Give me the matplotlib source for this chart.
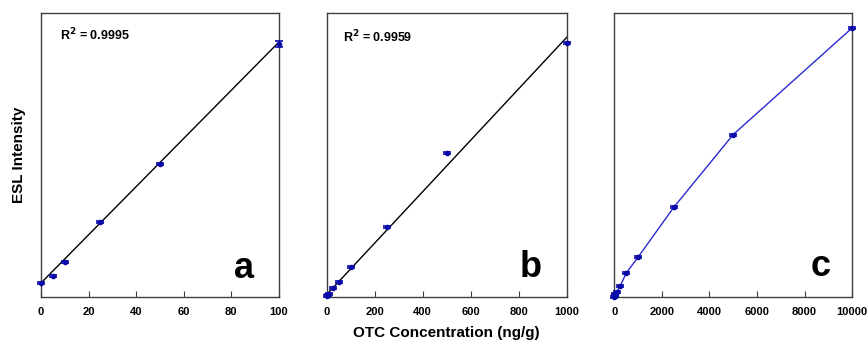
import numpy as np
import matplotlib
matplotlib.use("Agg")
import matplotlib.pyplot as plt

plt.rcParams['font.family'] = ['Liberation Sans', 'DejaVu Sans']
plt.rcParams['font.weight'] = 'bold'

# panel a
xa = [0, 5, 10, 25, 50, 100]
ya = [14, 21, 35, 75, 133, 253]
ea = [1.0, 1.0, 1.0, 1.0, 1.0, 3.0]
fit_a = [2.41, 14.0]
r2_a = "0.9995"

# panel b
xb = [0, 5, 10, 25, 50, 100, 250, 500, 1000]
yb = [1, 2, 3, 9, 15, 30, 70, 144, 254]
eb = [1.0, 1.0, 1.0, 1.0, 1.0, 1.0, 1.0, 1.0, 1.0]
fit_b = [0.2574, 2.3]
r2_b = "0.9959"

# panel c
xc = [0, 10, 25, 50, 100, 250, 500, 1000, 2500, 5000, 10000]
yc = [0.5, 1, 2, 3.5, 5, 11, 24, 40, 90, 163, 270]
ec = [1.0] * len(xc)

ticks_a = [0, 20, 40, 60, 80, 100]
ticks_b = [0, 200, 400, 600, 800, 1000]
ticks_c = [0, 2000, 4000, 6000, 8000, 10000]

blue = '#0a0aa8'
fig = plt.figure(figsize=(8.68, 3.44), dpi=100)
axa = fig.add_axes([0.0472, 0.1366, 0.2742, 0.8256])
axb = fig.add_axes([0.3762, 0.1366, 0.2767, 0.8256])
axc = fig.add_axes([0.7077, 0.1366, 0.2740, 0.8256])


def style(ax, ticks, xmax, ymax):
    ax.set_xlim(0, xmax)
    ax.set_ylim(0, ymax)
    ax.set_xticks(ticks)
    ax.set_xticklabels([str(t) for t in ticks], fontsize=8, fontweight='bold')
    ax.set_yticks([])
    ax.tick_params(axis='x', direction='in', length=4, width=0.8, pad=7, color='#404040')
    for s in ax.spines.values():
        s.set_color('#404040')
        s.set_linewidth(1.0)


def points(ax, x, y, e):
    ax.errorbar(x, y, yerr=e, fmt='o', color=blue, ms=3, capsize=3,
                elinewidth=1, capthick=1.2, zorder=3, clip_on=False)


# a
xl = np.array([0, 100])
axa.plot(xl, fit_a[0] * xl + fit_a[1], color='black', lw=1)
points(axa, xa, ya, ea)
style(axa, ticks_a, 100, 284)
axa.text(0.08, 0.922, r"R$^\mathbf{2}$ = " + r2_a, transform=axa.transAxes,
         fontsize=9, fontweight='bold', va='center', ha='left')
axa.text(0.855, 0.067, "a", transform=axa.transAxes, fontsize=26,
         fontweight='bold', ha='center', va='baseline')
axa.set_ylabel("ESL Intensity", fontsize=11, fontweight='bold', labelpad=11)

# b
xl = np.array([0, 1000])
axb.plot(xl, fit_b[0] * xl + fit_b[1], color='black', lw=1)
points(axb, xb, yb, eb)
style(axb, ticks_b, 1000, 284)
axb.text(0.069, 0.917, r"R$^\mathbf{2}$ = " + r2_b, transform=axb.transAxes,
         fontsize=9, fontweight='bold', va='center', ha='left')
axb.text(0.848, 0.07, "b", transform=axb.transAxes, fontsize=26,
         fontweight='bold', ha='center', va='baseline')
axb.set_xlabel("OTC Concentration (ng/g)", fontsize=11, fontweight='bold', labelpad=7)

# c
axc.plot(xc, yc, color='#2a2ad0', lw=1, zorder=2)
points(axc, xc, yc, ec)
style(axc, ticks_c, 10000, 285)
axc.text(0.866, 0.074, "c", transform=axc.transAxes, fontsize=26,
         fontweight='bold', ha='center', va='baseline')

plt.savefig("out.png", dpi=100)
